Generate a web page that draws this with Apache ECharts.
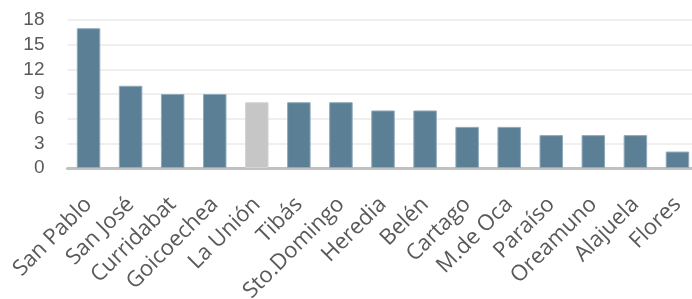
<!DOCTYPE html>
<html>
<head>
<meta charset="utf-8">
<script src="https://cdn.jsdelivr.net/npm/echarts@6/dist/echarts.min.js"></script>
<style>
	html, body { margin: 0; padding: 0; background: #fff; }
	#chart { width: 692px; height: 299px; }
</style>
</head>
<body>
<div id="chart"></div>
<script>
	var cantones = ['San Pablo', 'San José', 'Curridabat', 'Goicoechea', 'La Unión', 'Tibás', 'Sto.Domingo', 'Heredia', 'Belén', 'Cartago', 'M.de Oca', 'Paraíso', 'Oreamuno', 'Alajuela', 'Flores'];
	var valores = [17, 10, 9, 9, 8, 8, 8, 7, 7, 5, 5, 4, 4, 4, 2];
	var destacado = 'La Unión';

	var barData = cantones.map(function(c, i) {
		if (c === destacado) {
			return { value: valores[i], itemStyle: { color: '#c6c6c6', borderColor: '#d4d4d4' } };
		}
		return valores[i];
	});

	var chart = echarts.init(document.getElementById('chart'));
	chart.setOption({
		animation: false,
		grid: {
			top: 20,
			left: 67.5,
			width: 631,
			height: 148,
			containLabel: false,
			outerBoundsMode: 'none'
		},
		xAxis: {
			type: 'category',
			data: cantones,
			axisTick: { show: false },
			axisLine: {
				lineStyle: { color: '#c0c0c0', width: 3 }
			},
			axisLabel: {
				rotate: 45,
				interval: 0,
				margin: 33,
				fontSize: 22,
				fontFamily: 'Open Sans, Liberation Sans, sans-serif',
				color: '#595959'
			}
		},
		yAxis: {
			type: 'value',
			min: 0,
			max: 18,
			interval: 3,
			axisLine: { show: false },
			axisTick: { show: false },
			splitLine: {
				lineStyle: { color: '#efefef', width: 2 }
			},
			axisLabel: {
				margin: 23,
				fontSize: 19,
				fontFamily: 'Liberation Sans, Arial, sans-serif',
				color: '#595959'
			}
		},
		series: [{
			type: 'bar',
			data: barData,
			barWidth: 23.5,
			itemStyle: {
				color: '#5b7f94',
				borderColor: '#8faabb',
				borderWidth: 1
			}
		}]
	});
</script>
</body>
</html>
